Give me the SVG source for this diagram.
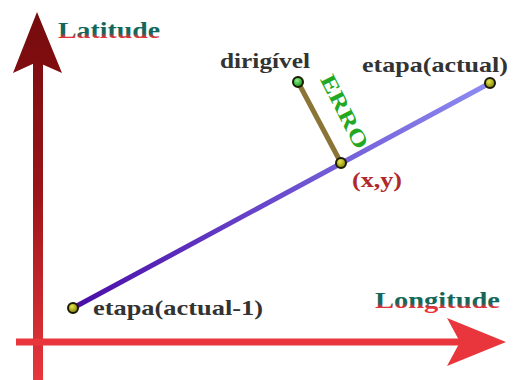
<svg xmlns="http://www.w3.org/2000/svg" width="513" height="380" viewBox="0 0 513 380">
<defs>
<linearGradient id="vgrad" x1="0" y1="0" x2="0" y2="380" gradientUnits="userSpaceOnUse">
<stop offset="0" stop-color="#720a0c"/>
<stop offset="0.5" stop-color="#9a1418"/>
<stop offset="1" stop-color="#e8363c"/>
</linearGradient>
<linearGradient id="bgrad" x1="75" y1="309" x2="489" y2="84" gradientUnits="userSpaceOnUse">
<stop offset="0" stop-color="#4a0ca8"/>
<stop offset="1" stop-color="#8c8cf2"/>
</linearGradient>
<linearGradient id="tgrad" x1="0" y1="0" x2="0" y2="1">
<stop offset="0" stop-color="#17665a"/>
<stop offset="0.6" stop-color="#17665a"/>
<stop offset="0.78" stop-color="#e83038"/>
<stop offset="1" stop-color="#e83038"/>
</linearGradient>
<radialGradient id="ydot" cx="0.4" cy="0.35" r="0.6">
<stop offset="0" stop-color="#e6e64a"/>
<stop offset="1" stop-color="#8a8a10"/>
</radialGradient>
<radialGradient id="gdot" cx="0.4" cy="0.35" r="0.6">
<stop offset="0" stop-color="#8ef08e"/>
<stop offset="1" stop-color="#1c9a1c"/>
</radialGradient>
</defs>
<style>
.lbl{font-family:"Liberation Serif","DejaVu Serif",serif;font-weight:bold;fill:#333333;font-size:21px}
.axl{font-family:"Liberation Serif","DejaVu Serif",serif;font-weight:bold;fill:url(#tgrad);font-size:23px}
.dot{stroke:#1a1a00;stroke-width:2}
</style>
<rect width="513" height="380" fill="#ffffff"/>
<g id="latitude-axis">
<rect x="33" y="60" width="10" height="320" fill="url(#vgrad)"/>
<polygon points="37,12 62,73 37,62 13,73" fill="url(#vgrad)"/>
<text class="axl" x="58" y="38" textLength="102" lengthAdjust="spacingAndGlyphs">Latitude</text>
</g>
<g id="longitude-axis">
<rect x="16" y="338.5" width="446" height="7" fill="#e8363c"/>
<polygon points="447,318 506,342 447,366 460,342" fill="#e8363c"/>
<text class="axl" x="375" y="308" textLength="125" lengthAdjust="spacingAndGlyphs">Longitude</text>
</g>
<g id="connectors">
<line x1="73" y1="308" x2="490" y2="83" stroke="url(#bgrad)" stroke-width="5" stroke-linecap="round"/>
<line x1="298" y1="82" x2="341" y2="163" stroke="#8b7536" stroke-width="5"/>
<text x="0" y="0" transform="translate(338,115) rotate(63)" text-anchor="middle" font-family="Liberation Serif, DejaVu Serif, serif" font-weight="bold" font-size="22" fill="#22a822" textLength="80" lengthAdjust="spacingAndGlyphs">ERRO</text>
</g>
<g id="etapa-anterior">
<circle class="dot" cx="73" cy="308" r="5" fill="url(#ydot)"/>
<text class="lbl" x="93" y="315" textLength="170" lengthAdjust="spacingAndGlyphs">etapa(actual-1)</text>
</g>
<g id="etapa-actual">
<circle class="dot" cx="490" cy="83" r="5" fill="url(#ydot)"/>
<text class="lbl" x="362" y="72" textLength="146" lengthAdjust="spacingAndGlyphs">etapa(actual)</text>
</g>
<g id="dirigivel">
<circle class="dot" cx="298" cy="82" r="5" fill="url(#gdot)"/>
<text class="lbl" x="220" y="68" textLength="90" lengthAdjust="spacingAndGlyphs">dirigível</text>
</g>
<g id="ponto-xy">
<circle class="dot" cx="341" cy="163" r="5" fill="url(#ydot)"/>
<text class="lbl" x="352" y="187" style="fill:#b0282c" textLength="50" lengthAdjust="spacingAndGlyphs">(x,y)</text>
</g>
</svg>
